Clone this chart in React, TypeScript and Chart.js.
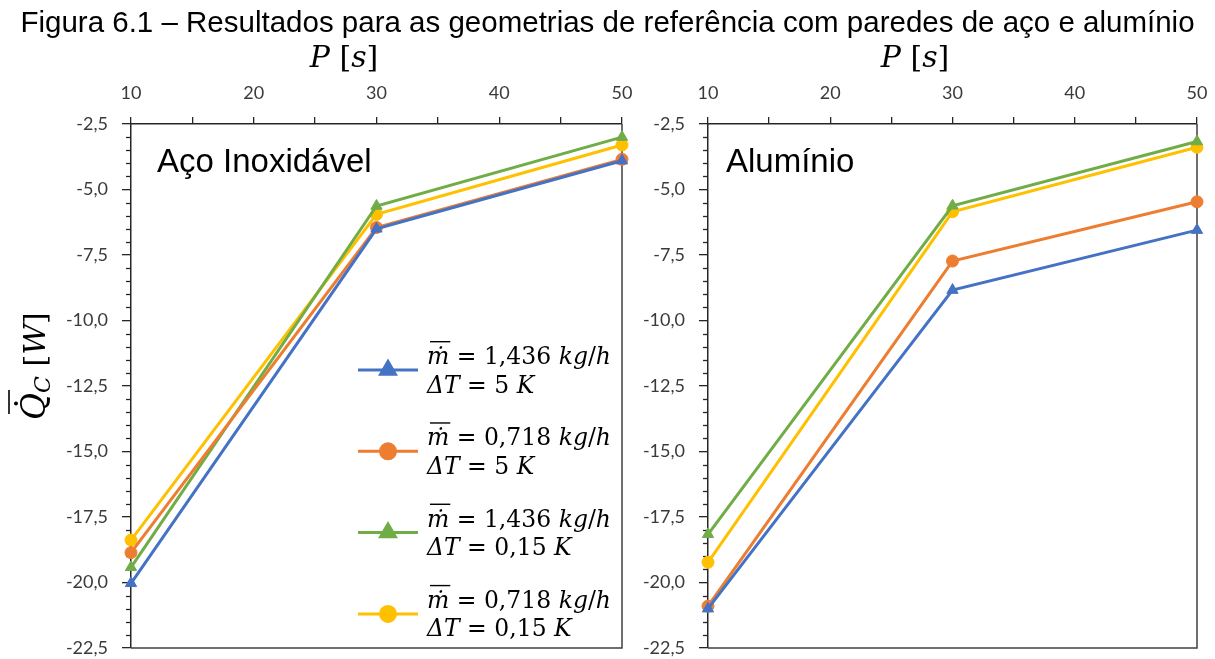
import React, { useEffect, useRef } from 'react';
import { Chart, registerables } from 'chart.js';
import { drawPoint } from 'chart.js/helpers';

Chart.register(...registerables);

// ---------- data ----------
const periods = [10, 30, 50];
const xMin = 10;
const xMax = 50;
const yMin = -22.5;
const yMax = -2.5;

// Aço Inoxidável
const acoM1436dT5 = [-20.03, -6.5, -3.9];
const acoM0718dT5 = [-18.86, -6.45, -3.85];
const acoM1436dT015 = [-19.42, -5.63, -3.0];
const acoM0718dT015 = [-18.38, -5.95, -3.3];

// Alumínio
const aluM1436dT5 = [-21.0, -8.84, -6.55];
const aluM0718dT5 = [-20.9, -7.73, -5.47];
const aluM1436dT015 = [-18.16, -5.62, -3.17];
const aluM0718dT015 = [-19.23, -5.85, -3.39];

const massFlows = ['1,436', '0,718', '1,436', '0,718'];
const deltaTs = ['5', '5', '0,15', '0,15'];

// ---------- styles ----------
const seriesColors = ['#4472C4', '#ED7D31', '#70AD47', '#FFC000'];
const seriesMarkers = ['triangle', 'circle', 'triangle', 'circle'];
const MATH = '"DejaVu Serif"';
const SANS = '"Liberation Sans", Arial, sans-serif';
const TICKFONT = 'Lato';
const AXIS = '#262626';

type Seg = { t: string; it?: boolean; size?: number; dy?: number; bar?: boolean };

function drawRich(ctx: CanvasRenderingContext2D, segs: Seg[], x: number, y: number, base: number, draw = true) {
  let cx = x;
  for (const s of segs) {
    const size = s.size ?? base;
    ctx.font = `${s.it ? 'italic ' : ''}${size}px ${MATH}`;
    const w = ctx.measureText(s.t).width;
    if (draw) {
      ctx.fillText(s.t, cx, y + (s.dy ?? 0));
      if (s.bar) {
        ctx.save();
        ctx.lineWidth = 1.4;
        ctx.strokeStyle = '#000';
        ctx.beginPath();
        ctx.moveTo(cx + 3, y - size * 0.95);
        ctx.lineTo(cx + w + 1, y - size * 0.95);
        ctx.stroke();
        ctx.restore();
      }
    }
    cx += w;
  }
  return cx - x;
}

function makeDatasets(values: number[][]) {
  return values.map((vals, i) => ({
    label: `m = ${massFlows[i]} kg/h, ΔT = ${deltaTs[i]} K`,
    data: periods.map((p, j) => ({ x: p, y: vals[j] })),
    borderColor: seriesColors[i],
    backgroundColor: seriesColors[i],
    pointBackgroundColor: seriesColors[i],
    pointBorderColor: seriesColors[i],
    pointStyle: seriesMarkers[i],
    pointRadius: seriesMarkers[i] === 'triangle' ? 6.5 : 6,
    pointBorderWidth: 1,
    borderWidth: 3,
    tension: 0,
    clip: false as any,
  }));
}

type Cfg = {
  values: number[][];
  yWidth: number;
  padRight: number;
  name: string;
  nameX: number;
  pCenter: number;
  legend: boolean;
  yTitle: boolean;
};

function decorPlugin(cfg: Cfg) {
  return {
    id: 'decor',
    beforeDatasetsDraw(chart: any) {
      const ctx: CanvasRenderingContext2D = chart.ctx;
      const { left, right, top, bottom } = chart.chartArea;
      const ys = chart.scales.y;
      ctx.save();
      ctx.strokeStyle = '#404040';
      ctx.lineWidth = 1.5;
      ctx.beginPath();
      ctx.moveTo(right, top);
      ctx.lineTo(right, bottom);
      ctx.lineTo(left, bottom);
      ctx.stroke();
      ctx.strokeStyle = AXIS;
      ctx.lineWidth = 1.3;
      for (let k = 1; k < 40; k++) {
        if (k % 5 === 0) continue;
        const v = yMin + k * 0.5;
        const py = Math.round(ys.getPixelForValue(v)) + 0.5;
        ctx.beginPath();
        ctx.moveTo(left - 5, py);
        ctx.lineTo(left, py);
        ctx.stroke();
      }
      ctx.restore();
    },
    afterDraw(chart: any) {
      const ctx: CanvasRenderingContext2D = chart.ctx;
      ctx.save();
      ctx.fillStyle = '#000';
      ctx.strokeStyle = '#000';
      ctx.textBaseline = 'alphabetic';
      ctx.textAlign = 'left';
      // panel name
      ctx.font = `33px ${SANS}`;
      ctx.fillText(cfg.name, cfg.nameX, 172);
      // P [s]
      const pSegs: Seg[] = [{ t: 'P', it: true }, { t: ' [' }, { t: 's', it: true }, { t: ']' }];
      const pw = drawRich(ctx, pSegs, 0, 0, 30, false);
      drawRich(ctx, pSegs, cfg.pCenter - pw / 2, 67, 30);

      if (cfg.yTitle) {
        ctx.save();
        ctx.translate(45, 420);
        ctx.rotate(-Math.PI / 2);
        const segs: Seg[] = [
          { t: 'Q', it: true, size: 33 },
          { t: 'C', it: true, size: 22, dy: 5 },
          { t: ' [' },
          { t: 'W', it: true },
          { t: ']' },
        ];
        drawRich(ctx, segs, 0, 0, 30);
        ctx.font = `italic 33px ${MATH}`;
        const qw = ctx.measureText('Q').width;
        ctx.fillStyle = '#000';
        ctx.strokeStyle = '#000';
        ctx.beginPath();
        ctx.arc(qw / 2 + 3, -29, 2, 0, Math.PI * 2);
        ctx.fill();
        ctx.lineWidth = 1.6;
        ctx.beginPath();
        ctx.moveTo(6, -36);
        ctx.lineTo(qw + 3, -36);
        ctx.stroke();
        ctx.restore();
      }

      if (cfg.legend) {
        for (let i = 0; i < 4; i++) {
          const Y = 370 + i * 81.3;
          const c = seriesColors[i];
          ctx.strokeStyle = c;
          ctx.lineWidth = 3;
          ctx.beginPath();
          ctx.moveTo(358, Y);
          ctx.lineTo(418, Y);
          ctx.stroke();
          ctx.fillStyle = c;
          drawPoint(
            ctx,
            { pointStyle: seriesMarkers[i] as any, radius: seriesMarkers[i] === 'triangle' ? 8.5 : 7.5, rotation: 0, borderWidth: 1 } as any,
            388,
            Y
          );
          ctx.fillStyle = '#000';
          drawRich(
            ctx,
            [
              { t: 'ṁ', it: true, bar: true },
              { t: ' = ' + massFlows[i] + ' ' },
              { t: 'kg', it: true },
              { t: '/' },
              { t: 'h', it: true },
            ],
            427,
            Y - 6,
            23.5
          );
          drawRich(
            ctx,
            [{ t: 'ΔT', it: true }, { t: ' = ' + deltaTs[i] + ' ' }, { t: 'K', it: true }],
            427,
            Y + 22.5,
            23.5
          );
        }
      }
      ctx.restore();
    },
  };
}

function makeConfig(cfg: Cfg): any {
  return {
    type: 'line',
    data: { datasets: makeDatasets(cfg.values) },
    plugins: [decorPlugin(cfg)],
    options: {
      responsive: false,
      animation: false,
      events: [],
      layout: { padding: { left: 0, right: cfg.padRight, top: 0, bottom: 11 } },
      plugins: { legend: { display: false }, tooltip: { enabled: false }, title: { display: false } },
      scales: {
        x: {
          type: 'linear',
          position: 'top',
          min: xMin,
          max: xMax,
          ticks: {
            stepSize: 5,
            autoSkip: false,
            maxRotation: 0,
            callback: (v: number) => (v % 10 === 0 ? String(v) : ''),
            font: { family: TICKFONT, size: 18 },
            color: '#3a3a3a',
            padding: 13,
          },
          grid: { drawOnChartArea: false, tickLength: 7, color: AXIS, lineWidth: 1.3 },
          border: { color: AXIS, width: 1.5 },
          afterFit: (s: any) => {
            s.height = 124;
            s.paddingLeft = 0;
            s.paddingRight = 0;
          },
        },
        y: {
          type: 'linear',
          min: yMin,
          max: yMax,
          ticks: {
            stepSize: 2.5,
            autoSkip: false,
            callback: (v: number) => v.toFixed(1).replace('.', ','),
            font: { family: TICKFONT, size: 18 },
            color: '#3a3a3a',
            padding: 14,
          },
          grid: { drawOnChartArea: false, tickLength: 9, color: AXIS, lineWidth: 1.3 },
          border: { color: AXIS, width: 1.5 },
          afterFit: (s: any) => {
            s.width = cfg.yWidth;
            s.paddingTop = 0;
            s.paddingBottom = 0;
          },
        },
      },
    },
  };
}

function ChartCanvas({ cfg, left, width }: { cfg: Cfg; left: number; width: number }) {
  const ref = useRef<HTMLCanvasElement>(null);
  useEffect(() => {
    const chart = new Chart(ref.current as HTMLCanvasElement, makeConfig(cfg));
    return () => chart.destroy();
  }, []);
  return (
    <canvas
      ref={ref}
      width={width}
      height={659}
      style={{ position: 'absolute', left, top: 0, width, height: 659, display: 'block' }}
    />
  );
}

export default function App() {
  const leftCfg: Cfg = {
    values: [acoM1436dT5, acoM0718dT5, acoM1436dT015, acoM0718dT015],
    yWidth: 131,
    padRight: 18,
    name: 'Aço Inoxidável',
    nameX: 157,
    pCenter: 344,
    legend: true,
    yTitle: true,
  };
  const rightCfg: Cfg = {
    values: [aluM1436dT5, aluM0718dT5, aluM1436dT015, aluM0718dT015],
    yWidth: 68,
    padRight: 18,
    name: 'Alumínio',
    nameX: 86,
    pCenter: 275,
    legend: false,
    yTitle: false,
  };
  return (
    <div style={{ position: 'absolute', left: 0, top: 0, width: 1215, height: 659, background: '#fff', overflow: 'hidden' }}>
      <ChartCanvas cfg={leftCfg} left={0} width={640} />
      <ChartCanvas cfg={rightCfg} left={640} width={575} />
      <div
        style={{
          position: 'absolute',
          left: 0,
          top: 7,
          width: 1215,
          textAlign: 'center',
          font: `29.5px ${SANS}`,
          lineHeight: '29.5px',
          whiteSpace: 'nowrap',
          color: '#000',
        }}
      >
        Figura 6.1 – Resultados para as geometrias de referência com paredes de aço e alumínio
      </div>
    </div>
  );
}
